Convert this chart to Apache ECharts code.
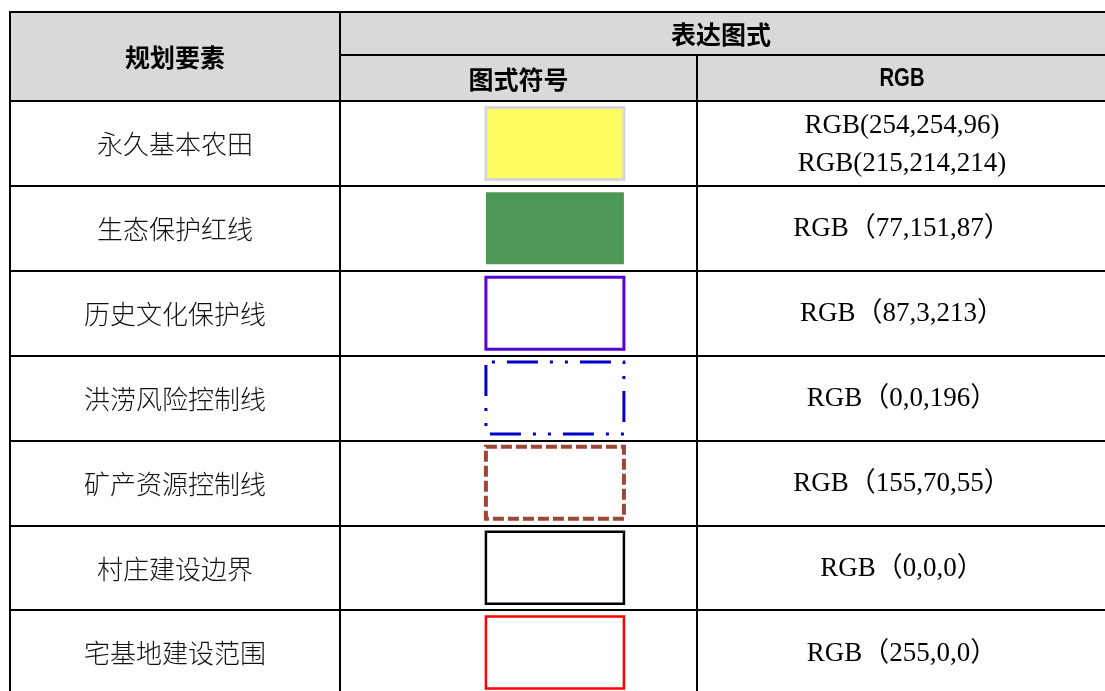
<!DOCTYPE html>
<html>
<head>
<meta charset="utf-8">
<script src="https://cdn.jsdelivr.net/npm/echarts@6/dist/echarts.min.js"></script>
<style>html,body{margin:0;padding:0;background:#fff}#c{width:1105px;height:691px}</style>
</head>
<body>
<div id="c"></div>
<script>
// ---- data ----
const headerTop = ['规划要素', '表达图式'];
const headerSub = ['图式符号', 'RGB'];
const elements = ['永久基本农田', '生态保护红线', '历史文化保护线', '洪涝风险控制线', '矿产资源控制线', '村庄建设边界', '宅基地建设范围'];
const rgbLabels = ['RGB(254,254,96)\nRGB(215,214,214)', 'RGB（77,151,87）', 'RGB（87,3,213）', 'RGB（0,0,196）', 'RGB（155,70,55）', 'RGB（0,0,0）', 'RGB（255,0,0）'];
const symbolFill = ['rgb(254,254,96)', 'rgb(77,151,87)', null, null, null, null, null];
const symbolStroke = ['rgb(215,214,214)', null, 'rgb(87,3,213)', 'rgb(0,0,196)', 'rgb(155,70,55)', 'rgb(0,0,0)', 'rgb(255,0,0)'];
const symbolLine = ['solid', 'none', 'solid', 'dashdotdot', 'dashed', 'solid', 'solid'];

// ---- styles / layout ----
const lineStyles = {
  solid: {lineDash: null, offset: 0},
  none: {lineDash: null, offset: 0},
  dashdotdot: {lineDash: [31, 12, 3, 12, 3, 12], offset: 52},
  dashed: {lineDash: [11, 4], offset: 0}
};
const widthOverride = [3, 0, 3, 3, 4, 2.5, 2.5];
const L = 10, T = 12, HM = 55, HB = 101, C1 = 340, C2 = 697, R = 1110, B = 695;
const symW = 138, symH = 72, symXFrac = 0.602;
const cnFont = '"Noto Sans CJK SC"';
const bodyCn = '300 26px ' + cnFont;
const bodyRgb = '27px "Liberation Serif", "Noto Sans CJK SC"';
const headFont = 'bold 25px ' + cnFont;

const chart = echarts.init(document.getElementById('c'), null, {renderer: 'canvas'});

function gridDef(left, width) {
  return {left: left, top: HB, width: width, height: B - HB, outerBoundsMode: 'none', containLabel: false,
    show: true, borderColor: '#000', borderWidth: 2, backgroundColor: '#fff'};
}
function yAx(idx) {
  return {type: 'category', gridIndex: idx, data: elements, inverse: true,
    axisLine: {show: false}, axisTick: {show: false}, axisLabel: {show: false},
    splitLine: {show: true, interval: 0, lineStyle: {color: '#000', width: 2}}};
}
function xAx(idx) {
  return {type: 'value', gridIndex: idx, min: 0, max: 1, show: false};
}

const seriesData = elements.map((n, i) => [0.5, i]);
const textCenterX = (C2 + 1107) / 2;

const option = {
  backgroundColor: '#fff',
  animation: false,
  grid: [gridDef(L, C1 - L), gridDef(C1, C2 - C1), gridDef(C2, R - C2)],
  xAxis: [xAx(0), xAx(1), xAx(2)],
  yAxis: [yAx(0), yAx(1), yAx(2)],
  graphic: [
    {type: 'rect', shape: {x: L, y: T, width: C1 - L, height: HB - T}, style: {fill: '#d9d9d9', stroke: '#000', lineWidth: 2}, z: 10},
    {type: 'rect', shape: {x: C1, y: T, width: R - C1, height: HM - T}, style: {fill: '#d9d9d9', stroke: '#000', lineWidth: 2}, z: 10},
    {type: 'rect', shape: {x: C1, y: HM, width: C2 - C1, height: HB - HM}, style: {fill: '#d9d9d9', stroke: '#000', lineWidth: 2}, z: 10},
    {type: 'rect', shape: {x: C2, y: HM, width: R - C2, height: HB - HM}, style: {fill: '#d9d9d9', stroke: '#000', lineWidth: 2}, z: 10},
    {type: 'text', x: (L + C1) / 2, y: (T + HB) / 2 + 1, style: {text: headerTop[0], font: headFont, fill: '#000', align: 'center', verticalAlign: 'middle'}, z: 11},
    {type: 'text', x: 721, y: (T + HM) / 2 + 1, style: {text: headerTop[1], font: headFont, fill: '#000', align: 'center', verticalAlign: 'middle'}, z: 11},
    {type: 'text', x: (C1 + C2) / 2, y: (HM + HB) / 2 + 1, style: {text: headerSub[0], font: headFont, fill: '#000', align: 'center', verticalAlign: 'middle'}, z: 11},
    {type: 'text', x: textCenterX, y: (HM + HB) / 2 + 1, scaleX: 0.78, style: {text: headerSub[1], font: 'bold 26px "Liberation Sans"', fill: '#000', align: 'center', verticalAlign: 'middle'}, z: 11}
  ],
  series: [
    {
      type: 'custom', xAxisIndex: 0, yAxisIndex: 0, data: seriesData, z: 5, clip: false,
      renderItem: function (params, api) {
        const c = api.coord([0.5, api.value(1)]);
        return {type: 'text', style: {text: elements[params.dataIndex], x: c[0], y: c[1] + 1, align: 'center', verticalAlign: 'middle', font: bodyCn, fill: '#111'}};
      }
    },
    {
      type: 'custom', xAxisIndex: 1, yAxisIndex: 1, data: seriesData, z: 5, clip: false,
      renderItem: function (params, api) {
        const i = params.dataIndex;
        const c = api.coord([symXFrac, api.value(1)]);
        const ls = lineStyles[symbolLine[i]];
        return {type: 'rect', shape: {x: c[0] - symW / 2, y: c[1] - symH / 2, width: symW, height: symH},
          style: {fill: symbolFill[i] || 'rgba(0,0,0,0)', stroke: symbolStroke[i] || null, lineWidth: widthOverride[i], lineDash: ls.lineDash, lineDashOffset: ls.offset}};
      }
    },
    {
      type: 'custom', xAxisIndex: 2, yAxisIndex: 2, data: seriesData, z: 5, clip: false,
      renderItem: function (params, api) {
        const c = api.coord([0.5, api.value(1)]);
        return {type: 'text', style: {text: rgbLabels[params.dataIndex], x: textCenterX, y: c[1] + 1, align: 'center', verticalAlign: 'middle', font: bodyRgb, lineHeight: 38, fill: '#000'}};
      }
    }
  ]
};
chart.setOption(option);
</script>
</body>
</html>
